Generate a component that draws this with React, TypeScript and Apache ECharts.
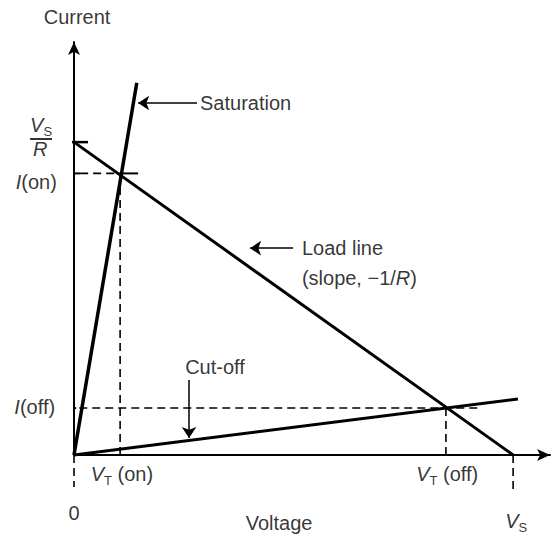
import React, { useEffect, useRef } from 'react';
import * as echarts from 'echarts';

// Operating values (x: voltage units, y: current units)
const VS = 10;
const VS_OVER_R = 10;
const I_ON = 9.0;
const VT_ON = 1.05;
const I_OFF = 1.5;
const VT_OFF = 8.47;
const X_MAX = 10.84;
const Y_MAX = 13.2;

const loadLine = [[0, VS_OVER_R], [VS, 0]];
const saturationLine = [[0, 0], [1.43, 11.9]];
const cutoffLine = [[0, 0], [10.11, 1.79]];

const tickLabels = ['0', '{i|V}{sub|S}', '{i|V}{sub|T}{t| (on)}', '{i|V}{sub|T}{t| (off)}', '{i|I}(on)', '{i|I}(off)', '{i|V}{sub|S}', '{i|R}'];
const axisNames = ['Current', 'Voltage'];
const annotations = ['Saturation', 'Load line\n(slope, \u22121/{i|R})', 'Cut-off'];

const FONT = 'Liberation Sans';

export default function App() {
  const ref = useRef<HTMLDivElement>(null);
  useEffect(() => {
    if (!ref.current) return;
    const chart = echarts.init(ref.current, null, { renderer: 'svg' });
    const black = '#000';
    const solid = (data: number[][], width: number) => ({
      type: 'line', data, symbol: 'none', clip: false, silent: true,
      lineStyle: { color: black, width, type: 'solid' },
    });
    const dashed = (data: number[][]) => ({
      type: 'line', data, symbol: 'none', clip: false, silent: true,
      lineStyle: { color: black, width: 1.6, type: [8, 5] },
    });
    const lbl = (value: number[], text: string, align: string, extra: any = {}) => ({
      value, label: { formatter: text, align, ...extra },
    });
    const labelData = [
      lbl([0.07, 14.0], axisNames[0], 'center'),
      lbl([4.67, -2.17], axisNames[1], 'center'),
      lbl([0, -1.85], tickLabels[0], 'center'),
      lbl([10.07, -2.11], tickLabels[1], 'center'),
      lbl([1.09, -0.61], tickLabels[2], 'center'),
      lbl([8.5, -0.61], tickLabels[3], 'center'),
      lbl([-0.39, 8.72], tickLabels[4], 'right'),
      lbl([-0.43, 1.53], tickLabels[5], 'right'),
      lbl([-0.75, 10.54], tickLabels[6], 'center'),
      lbl([-0.77, 9.78], tickLabels[7], 'center'),
      lbl([2.87, 11.25], annotations[0], 'left'),
      lbl([5.19, 6.13], annotations[1], 'left', { lineHeight: 30 }),
      lbl([3.21, 2.81], annotations[2], 'center'),
    ];
    const arrows = [
      { coords: [[2.8, 11.25], [1.46, 11.25]] },
      { coords: [[4.99, 6.61], [4.01, 6.61]] },
      { coords: [[2.62, 2.4], [2.62, 0.54]] },
    ];
    const fractionBar = [{ coords: [[-1.0, 10.12], [-0.5, 10.12]] }];
    chart.setOption({
      animation: false,
      backgroundColor: '#fff',
      grid: { left: 74, top: 42, width: 476, height: 413 },
      xAxis: {
        type: 'value', min: 0, max: X_MAX,
        axisLine: { show: true, onZero: true, symbol: ['none', 'arrow'], symbolSize: [9, 13], lineStyle: { color: black, width: 2 } },
        axisTick: { show: false }, axisLabel: { show: false }, splitLine: { show: false },
      },
      yAxis: {
        type: 'value', min: 0, max: Y_MAX,
        axisLine: { show: true, onZero: true, symbol: ['none', 'arrow'], symbolSize: [9, 13], lineStyle: { color: black, width: 2 } },
        axisTick: { show: false }, axisLabel: { show: false }, splitLine: { show: false },
      },
      series: [
        solid(loadLine, 3),
        solid(saturationLine, 3.5),
        solid(cutoffLine, 3),
        solid([[-0.25, VS_OVER_R], [0.32, VS_OVER_R]], 2.5),
        solid([[-0.2, I_ON], [0.14, I_ON]], 2),
        dashed([[0.14, I_ON], [VT_ON, I_ON]]),
        solid([[VT_ON, I_ON], [1.46, I_ON]], 2),
        solid([[-0.27, I_OFF], [0.05, I_OFF]], 2),
        dashed([[0.12, I_OFF], [9.25, I_OFF]]),
        dashed([[VT_ON, 0], [VT_ON, I_ON]]),
        dashed([[VT_OFF, 0], [VT_OFF, I_OFF]]),
        dashed([[0, 0], [0, -1.02]]),
        dashed([[VS, 0], [VS, -1.1]]),
        {
          type: 'lines', coordinateSystem: 'cartesian2d', silent: true, clip: false,
          symbol: ['none', 'none'],
          lineStyle: { color: black, width: 1.6, opacity: 1 },
          data: fractionBar,
        },
        {
          type: 'lines', coordinateSystem: 'cartesian2d', silent: true, clip: false,
          symbol: ['none', 'arrow'], symbolSize: 11,
          lineStyle: { color: black, width: 1.5, opacity: 1 },
          data: arrows,
        },
        {
          type: 'scatter', clip: false, silent: true, symbolSize: 1,
          itemStyle: { color: 'transparent' },
          label: {
            show: true, position: 'inside', color: black, fontSize: 20, fontFamily: FONT,
            verticalAlign: 'middle',
            rich: {
              i: { fontStyle: 'italic', fontSize: 20, fontFamily: FONT, color: black, lineHeight: 26, verticalAlign: 'middle' },
              t: { fontSize: 20, fontFamily: FONT, color: black, lineHeight: 26, verticalAlign: 'middle' },
              sub: { fontSize: 13, fontFamily: FONT, color: black, lineHeight: 13, verticalAlign: 'bottom' },
            },
          },
          data: labelData,
        },
      ],
    });
    return () => chart.dispose();
  }, []);
  return <div ref={ref} style={{ position: 'absolute', left: 0, top: 0, width: 552, height: 538 }} />;
}
